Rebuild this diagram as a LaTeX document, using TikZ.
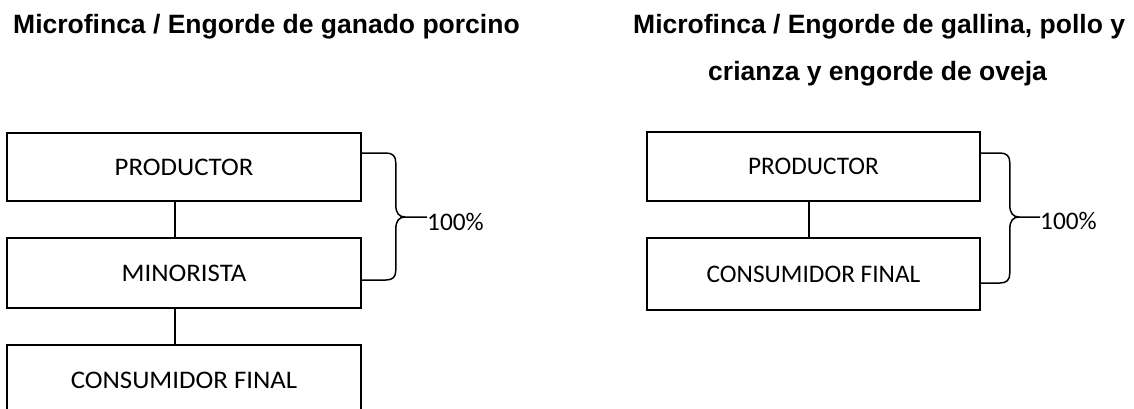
\documentclass[tikz,border=0pt]{standalone}
\usepackage{fontspec}
\setmainfont{Carlito}
\newfontfamily\titlef{Liberation Sans}
\newfontfamily\carlw{Carlito}[FakeStretch=1.06]
\usetikzlibrary{calc}
\begin{document}
\begin{tikzpicture}[x=1pt,y=-1pt,
  titlestyle/.style={inner sep=0pt, font=\titlef\bfseries\fontsize{26.5}{30}\selectfont},
  boxl/.style={draw, line width=1.6pt, rectangle, inner sep=0pt, minimum width=354pt, font=\carlw\fontsize{25.3}{30}\selectfont},
  boxr/.style={draw, line width=1.6pt, rectangle, inner sep=0pt, minimum width=333pt, font=\fontsize{25.3}{30}\selectfont},
  link/.style={line width=1.3pt},
  bracestyle/.style={line width=1.5pt, line join=round},
  pct/.style={inner sep=0pt, anchor=base west, font=\fontsize{25.3}{30}\selectfont}]
\clip (0,0) rectangle (1134,408);
\fill[white] (0,0) rectangle (1134,408);
% titles
\node[titlestyle, anchor=base west] (t1) at (13,33) {Microfinca / Engorde de ganado porcino};
\node[titlestyle, anchor=base west] (t2a) at (633,33) {Microfinca / Engorde de gallina, pollo y};
\node[titlestyle, anchor=base west] (t2b) at (708,80) {crianza y engorde de oveja};
% left chain
\node[boxl, minimum height=68pt] (lp) at (184,167) {PRODUCTOR};
\node[boxl, minimum height=70pt] (lm) at (184,273) {MINORISTA};
\node[boxl, minimum height=70pt] (lc) at (184,380) {CONSUMIDOR FINAL};
\draw[link] ([xshift=-9pt]lp.south) -- ([xshift=-9pt]lm.north);
\draw[link] ([xshift=-9pt]lm.south) -- ([xshift=-9pt]lc.north);
\node[pct] (lpct) at (427,230) {100\%};
\coordinate (lbt) at ([yshift=14pt]lp.east);
\coordinate (lbb) at ([yshift=-7pt]lm.east);
\coordinate (ltip) at (405,217);
\draw[bracestyle] (lbt) -- ++(24,0) .. controls +(7,0) and +(0,-7) .. ++(10,10)
  -- ++(0,42) .. controls +(0,8) and +(-6,0) .. (ltip) -- (ltip -| lpct.west);
\draw[bracestyle] (lbb) -- ++(24,0) .. controls +(7,0) and +(0,7) .. ++(10,-10)
  -- ++(0,-41) .. controls +(0,-8) and +(-6,0) .. (ltip);
% right chain
\node[boxr, minimum height=69pt] (rp) at (813.5,166.5) {PRODUCTOR};
\node[boxr, minimum height=72pt] (rc) at (813.5,274) {CONSUMIDOR FINAL};
\draw[link] ([xshift=-4.5pt]rp.south) -- ([xshift=-4.5pt]rc.north);
\node[pct] (rpct) at (1040,229) {100\%};
\coordinate (rbt) at ([yshift=13.5pt]rp.east);
\coordinate (rbb) at ([yshift=-9pt]rc.east);
\coordinate (rtip) at (1019,217);
\draw[bracestyle] (rbt) -- ++(19,0) .. controls +(7,0) and +(0,-7) .. ++(10,10)
  -- ++(0,42) .. controls +(0,8) and +(-6,0) .. (rtip) -- (rtip -| rpct.west);
\draw[bracestyle] (rbb) -- ++(19,0) .. controls +(7,0) and +(0,7) .. ++(10,-10)
  -- ++(0,-44) .. controls +(0,-8) and +(-6,0) .. (rtip);
\end{tikzpicture}
\end{document}
